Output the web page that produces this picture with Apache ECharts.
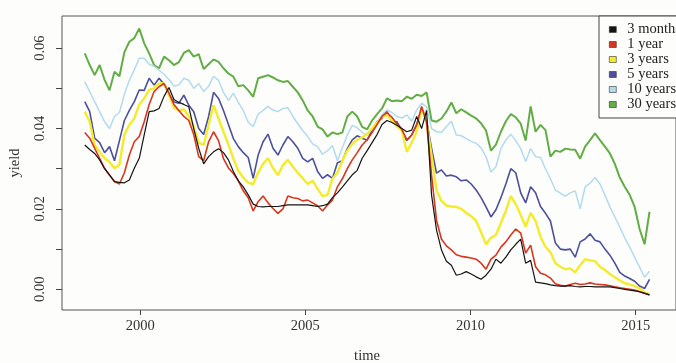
<!DOCTYPE html>
<html>
<head>
<meta charset="utf-8">
<script src="https://cdn.jsdelivr.net/npm/echarts@6/dist/echarts.min.js"></script>
<style>
  html, body { margin: 0; padding: 0; background: #fdfdfb; }
  #chart { width: 676px; height: 363px; }
</style>
</head>
<body>
<div id="chart"></div>
<script>
// Observation times: regular series starting at startYear, one value every stepYears
const startYear = 1998.32;
const stepYears = 0.15;

const yearTicks = [2000, 2005, 2010, 2015];
const yieldTicks = [0, 0.01, 0.02, 0.03, 0.04, 0.05, 0.06];
const yieldLabels = [0, 0.02, 0.04, 0.06];

const seriesNames = ['3 months', '1 year', '3 years', '5 years', '10 years', '30 years'];

const yield3m = [
  0.0359,0.0348,0.0338,0.0322,0.0300,0.0285,0.0268,0.0266,0.0265,0.0272,
  0.0301,0.0326,0.0384,0.0442,0.0444,0.0450,0.0480,0.0502,0.0472,0.0465,
  0.0460,0.0454,0.0400,0.0351,0.0312,0.0330,0.0342,0.0350,0.0340,0.0322,
  0.0293,0.0270,0.0255,0.0235,0.0212,0.0206,0.0205,0.0206,0.0206,0.0206,
  0.0208,0.0210,0.0210,0.0210,0.0210,0.0210,0.0208,0.0206,0.0208,0.0212,
  0.0228,0.0240,0.0254,0.0270,0.0285,0.0296,0.0326,0.0345,0.0365,0.0385,
  0.0410,0.0420,0.0415,0.0408,0.0400,0.0392,0.0396,0.0430,0.0400,0.0445,
  0.0235,0.0148,0.0098,0.0070,0.0060,0.0035,0.0038,0.0044,0.0038,0.0031,
  0.0025,0.0035,0.0050,0.0075,0.0065,0.0080,0.0098,0.0112,0.0125,0.0065,
  0.0072,0.0018,0.0016,0.0014,0.0011,0.0009,0.0008,0.0008,0.0009,0.0007,
  0.0006,0.0007,0.0007,0.0006,0.0006,0.0006,0.0006,0.0004,0.0002,0.0000,
  -0.0002,-0.0004,-0.0006,-0.0010,-0.0014
];

const yield1y = [
  0.0390,0.0376,0.0351,0.0326,0.0301,0.0284,0.0268,0.0262,0.0290,0.0334,
  0.0367,0.0380,0.0417,0.0460,0.0492,0.0504,0.0512,0.0488,0.0460,0.0445,
  0.0430,0.0420,0.0385,0.0330,0.0320,0.0367,0.0392,0.0370,0.0325,0.0302,
  0.0288,0.0270,0.0245,0.0228,0.0195,0.0218,0.0232,0.0215,0.0201,0.0189,
  0.0200,0.0232,0.0228,0.0226,0.0220,0.0222,0.0215,0.0208,0.0195,0.0210,
  0.0222,0.0255,0.0275,0.0300,0.0322,0.0340,0.0359,0.0372,0.0390,0.0410,
  0.0430,0.0440,0.0428,0.0412,0.0398,0.0372,0.0384,0.0409,0.0455,0.0415,
  0.0284,0.0172,0.0125,0.0108,0.0098,0.0086,0.0082,0.0080,0.0078,0.0075,
  0.0065,0.0050,0.0075,0.0085,0.0105,0.0118,0.0135,0.0150,0.0140,0.0090,
  0.0110,0.0056,0.0040,0.0036,0.0028,0.0014,0.0010,0.0008,0.0012,0.0015,
  0.0012,0.0013,0.0016,0.0013,0.0012,0.0011,0.0009,0.0006,0.0004,0.0002,
  0.0000,-0.0002,-0.0006,-0.0010,-0.0014
];

const yield3y = [
  0.0442,0.0417,0.0359,0.0342,0.0326,0.0317,0.0301,0.0310,0.0385,0.0409,
  0.0425,0.0460,0.0475,0.0496,0.0500,0.0512,0.0512,0.0483,0.0452,0.0444,
  0.0448,0.0430,0.0405,0.0365,0.0359,0.0409,0.0458,0.0425,0.0392,0.0360,
  0.0325,0.0295,0.0278,0.0265,0.0262,0.0290,0.0312,0.0326,0.0301,0.0284,
  0.0309,0.0322,0.0305,0.0290,0.0276,0.0262,0.0270,0.0250,0.0232,0.0235,
  0.0275,0.0290,0.0320,0.0345,0.0362,0.0372,0.0378,0.0386,0.0400,0.0415,
  0.0428,0.0434,0.0420,0.0405,0.0395,0.0342,0.0365,0.0392,0.0452,0.0415,
  0.0334,0.0247,0.0220,0.0208,0.0206,0.0205,0.0200,0.0190,0.0182,0.0170,
  0.0142,0.0112,0.0128,0.0135,0.0165,0.0195,0.0232,0.0212,0.0185,0.0156,
  0.0190,0.0170,0.0130,0.0106,0.0092,0.0065,0.0056,0.0050,0.0052,0.0042,
  0.0060,0.0075,0.0072,0.0070,0.0056,0.0048,0.0038,0.0030,0.0022,0.0015,
  0.0012,0.0008,0.0002,-0.0008,-0.0012
];

const yield5y = [
  0.0467,0.0442,0.0376,0.0365,0.0340,0.0355,0.0320,0.0370,0.0420,0.0445,
  0.0467,0.0496,0.0495,0.0525,0.0508,0.0525,0.0510,0.0485,0.0466,0.0463,
  0.0483,0.0458,0.0442,0.0400,0.0385,0.0430,0.0490,0.0475,0.0445,0.0410,
  0.0375,0.0355,0.0340,0.0328,0.0276,0.0334,0.0367,0.0386,0.0351,0.0334,
  0.0359,0.0380,0.0367,0.0351,0.0326,0.0317,0.0326,0.0293,0.0276,0.0285,
  0.0276,0.0315,0.0320,0.0350,0.0372,0.0382,0.0376,0.0371,0.0396,0.0417,
  0.0425,0.0442,0.0417,0.0417,0.0396,0.0370,0.0384,0.0410,0.0450,0.0420,
  0.0351,0.0289,0.0297,0.0282,0.0284,0.0280,0.0270,0.0272,0.0262,0.0247,
  0.0228,0.0205,0.0180,0.0198,0.0228,0.0262,0.0300,0.0290,0.0240,0.0215,
  0.0255,0.0240,0.0206,0.0189,0.0170,0.0115,0.0100,0.0098,0.0100,0.0080,
  0.0118,0.0125,0.0138,0.0122,0.0118,0.0100,0.0085,0.0065,0.0042,0.0033,
  0.0027,0.0020,0.0008,0.0002,0.0025
];

const yield10y = [
  0.0516,0.0492,0.0467,0.0442,0.0417,0.0400,0.0430,0.0440,0.0485,0.0520,
  0.0546,0.0575,0.0575,0.0560,0.0555,0.0545,0.0535,0.0522,0.0506,0.0508,
  0.0525,0.0520,0.0500,0.0512,0.0492,0.0505,0.0530,0.0520,0.0490,0.0470,
  0.0488,0.0465,0.0445,0.0415,0.0405,0.0436,0.0445,0.0455,0.0446,0.0442,
  0.0450,0.0452,0.0430,0.0412,0.0395,0.0380,0.0362,0.0355,0.0336,0.0345,
  0.0358,0.0320,0.0352,0.0384,0.0408,0.0402,0.0390,0.0384,0.0398,0.0415,
  0.0434,0.0446,0.0440,0.0430,0.0426,0.0434,0.0418,0.0446,0.0463,0.0454,
  0.0400,0.0392,0.0390,0.0405,0.0418,0.0384,0.0382,0.0375,0.0368,0.0363,
  0.0352,0.0330,0.0292,0.0305,0.0350,0.0372,0.0386,0.0370,0.0350,0.0318,
  0.0350,0.0330,0.0328,0.0300,0.0275,0.0247,0.0239,0.0232,0.0240,0.0245,
  0.0200,0.0255,0.0264,0.0278,0.0262,0.0235,0.0205,0.0180,0.0155,0.0128,
  0.0105,0.0080,0.0055,0.0030,0.0045
];

const yield30y = [
  0.0587,0.0558,0.0533,0.0558,0.0521,0.0495,0.0541,0.0530,0.0590,0.0616,
  0.0625,0.0649,0.0612,0.0587,0.0558,0.0550,0.0579,0.0570,0.0558,0.0565,
  0.0588,0.0595,0.0579,0.0585,0.0548,0.0560,0.0572,0.0566,0.0550,0.0537,
  0.0529,0.0505,0.0508,0.0495,0.0479,0.0525,0.0529,0.0533,0.0527,0.0520,
  0.0516,0.0518,0.0504,0.0490,0.0470,0.0445,0.0430,0.0405,0.0398,0.0380,
  0.0390,0.0386,0.0390,0.0430,0.0442,0.0430,0.0404,0.0398,0.0420,0.0436,
  0.0450,0.0475,0.0468,0.0470,0.0468,0.0479,0.0474,0.0484,0.0481,0.0490,
  0.0420,0.0417,0.0425,0.0442,0.0465,0.0438,0.0448,0.0440,0.0432,0.0425,
  0.0413,0.0395,0.0345,0.0360,0.0392,0.0418,0.0436,0.0428,0.0412,0.0370,
  0.0455,0.0392,0.0409,0.0396,0.0330,0.0345,0.0342,0.0350,0.0348,0.0347,
  0.0325,0.0355,0.0371,0.0388,0.0371,0.0355,0.0338,0.0312,0.0278,0.0255,
  0.0235,0.0205,0.0150,0.0112,0.0193
];

const FONT = '"Liberation Serif", "DejaVu Serif", serif';

function withTime(values) {
  return values.map((v, i) => [startYear + i * stepYears, v]);
}

// Series styling, keyed by name
const styles = {
  '3 months': { color: '#141414', width: 1.2 },
  '1 year':   { color: '#d8361e', width: 1.6 },
  '3 years':  { color: '#f4ec2a', width: 2.4 },
  '5 years':  { color: '#4c4f9c', width: 1.6 },
  '10 years': { color: '#b2dbef', width: 1.5 },
  '30 years': { color: '#62ad45', width: 2.0 }
};

const valuesByName = {
  '3 months': yield3m,
  '1 year': yield1y,
  '3 years': yield3y,
  '5 years': yield5y,
  '10 years': yield10y,
  '30 years': yield30y
};

// Long maturities are drawn first so the short-rate lines sit on top
const drawOrder = ['30 years', '10 years', '5 years', '3 years', '1 year', '3 months'];

const series = drawOrder.map(name => ({
  name: name,
  type: 'line',
  data: withTime(valuesByName[name]),
  showSymbol: false,
  symbol: 'none',
  smooth: false,
  color: styles[name].color,
  lineStyle: { color: styles[name].color, width: styles[name].width },
  emphasis: { disabled: true }
}));

const chart = echarts.init(document.getElementById('chart'), null, { renderer: 'canvas' });

chart.setOption({
  animation: false,
  backgroundColor: '#fdfdfb',
  grid: {
    left: 62, top: 16, width: 620, height: 294,
    show: true, borderColor: '#555', borderWidth: 1, backgroundColor: 'transparent'
  },
  xAxis: {
    type: 'value',
    min: 1997.631, max: 2016.222,
    splitLine: { show: false },
    axisLine: { show: false, onZero: false },
    axisTick: { show: true, inside: false, length: 5, lineStyle: { color: '#444' }, customValues: yearTicks },
    axisLabel: {
      show: true, margin: 9, color: '#333', fontFamily: FONT, fontSize: 14.5,
      customValues: yearTicks,
      formatter: v => String(Math.round(v))
    }
  },
  yAxis: {
    type: 'value',
    min: -0.00515, max: 0.0680,
    splitLine: { show: false },
    axisLine: { show: false, onZero: false },
    axisTick: { show: true, inside: false, length: 6, lineStyle: { color: '#444' }, customValues: yieldTicks },
    axisLabel: {
      show: true, rotate: 90, margin: 14, color: '#333', fontFamily: FONT, fontSize: 14.5,
      customValues: yieldLabels,
      formatter: v => v.toFixed(2)
    }
  },
  legend: {
    data: seriesNames,
    orient: 'vertical',
    left: 599, top: 16,
    padding: [6, 60, 6, 10],
    itemGap: 0,
    itemWidth: 7, itemHeight: 6,
    icon: 'rect',
    borderColor: '#444', borderWidth: 1,
    backgroundColor: '#fdfdfb',
    itemStyle: { borderColor: '#333', borderWidth: 0.6 },
    textStyle: {
      fontFamily: FONT, fontSize: 14.5, color: '#222',
      lineHeight: 11.5, padding: [0, 0, 0, 6]
    },
    selectedMode: false
  },
  graphic: [
    {
      type: 'text', x: 15, y: 163, rotation: Math.PI / 2,
      style: {
        text: 'yield', fontFamily: FONT, fontSize: 14.5, fill: '#333',
        align: 'center', verticalAlign: 'middle'
      }
    },
    {
      type: 'text', x: 367, y: 356,
      style: {
        text: 'time', fontFamily: FONT, fontSize: 14.5, fill: '#333',
        align: 'center', verticalAlign: 'middle'
      }
    }
  ],
  series: series
});
</script>
</body>
</html>
